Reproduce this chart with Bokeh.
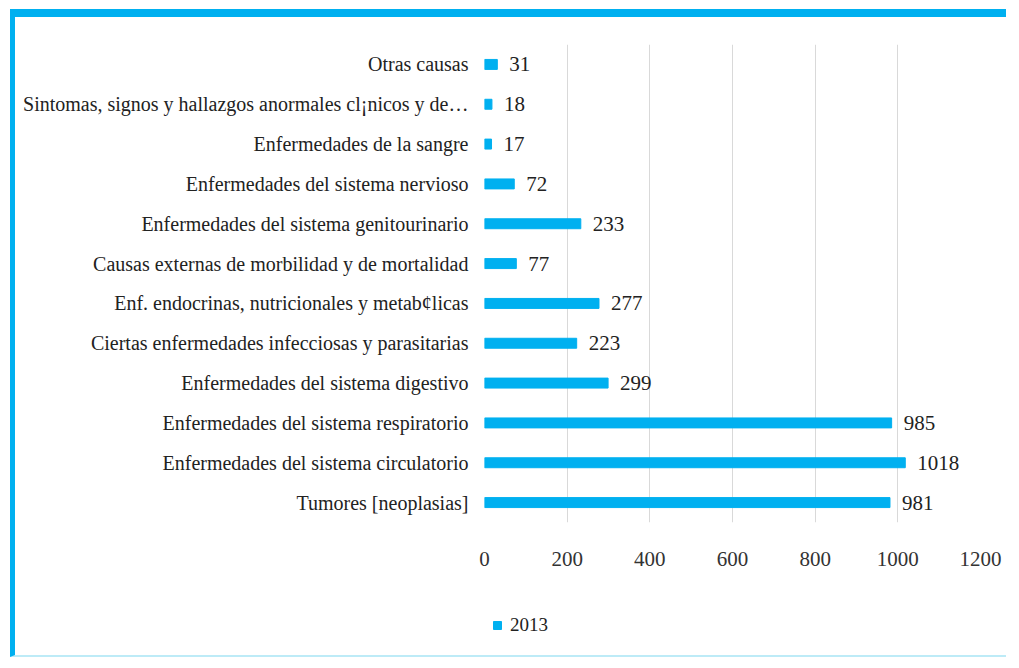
from bokeh.plotting import figure
from bokeh.layouts import column
from bokeh.models import ColumnDataSource, LabelSet, Legend, LegendItem, FixedTicker
from bokeh.embed import file_html
from bokeh.resources import INLINE

categories = [
    "Otras causas",
    "Sintomas, signos y hallazgos anormales cl¡nicos y de…",
    "Enfermedades de la sangre",
    "Enfermedades del sistema nervioso",
    "Enfermedades del sistema genitourinario",
    "Causas externas de morbilidad y de mortalidad",
    "Enf. endocrinas, nutricionales y metab¢licas",
    "Ciertas enfermedades infecciosas y parasitarias",
    "Enfermedades del sistema digestivo",
    "Enfermedades del sistema respiratorio",
    "Enfermedades del sistema circulatorio",
    "Tumores [neoplasias]",
]
values_2013 = [31, 18, 17, 72, 233, 77, 277, 223, 299, 985, 1018, 981]
x_ticks = [0, 200, 400, 600, 800, 1000, 1200]
series_name = "2013"

BLUE = "#00B0F0"
FONT = "Liberation Serif"

src = ColumnDataSource(dict(cat=categories, val=values_2013,
                            lab=[str(v) for v in values_2013]))

p = figure(width=996, height=563, y_range=list(reversed(categories)),
           x_range=(0, 1200), output_backend="svg", toolbar_location=None,
           min_border_left=469, min_border_right=31, min_border_top=27,
           min_border_bottom=58)
p.styles = {"border-top": "8px solid " + BLUE, "border-left": "5px solid " + BLUE,
            "margin-top": "9px", "margin-left": "10px"}

r = p.hbar(y="cat", right="val", left=0, height=0.25, source=src,
           fill_color=BLUE, line_color=BLUE)

labels = LabelSet(x="val", y="cat", text="lab", source=src, x_offset=12,
                  text_baseline="middle", text_font=FONT, text_font_size="21px",
                  text_color="#222222")
p.add_layout(labels)

p.xaxis.ticker = FixedTicker(ticks=x_ticks)
p.xaxis.axis_line_color = None
p.xaxis.major_tick_line_color = None
p.xaxis.minor_tick_line_color = None
p.xaxis.major_label_standoff = 23
p.xaxis.major_label_text_font = FONT
p.xaxis.major_label_text_font_size = "21px"
p.xaxis.major_label_text_color = "#333333"

p.yaxis.axis_line_color = None
p.yaxis.major_tick_line_color = None
p.yaxis.minor_tick_line_color = None
p.yaxis.major_label_standoff = 10
p.yaxis.major_label_text_font = FONT
p.yaxis.major_label_text_font_size = "20px"
p.yaxis.major_label_text_color = "#222222"

p.ygrid.grid_line_color = None
p.xgrid.grid_line_color = "#d9d9d9"
p.xgrid.ticker = FixedTicker(ticks=x_ticks)
p.outline_line_color = None

# legend strip below the chart (its frame is aligned with the chart's frame);
# it keys the same series, whose categories are not part of this strip's range
p2 = figure(width=996, height=85, x_range=(0, 1200), y_range=[series_name],
            output_backend="svg", toolbar_location=None,
            min_border=0, min_border_left=0, min_border_right=0,
            min_border_top=0, min_border_bottom=0)
p2.styles = {"border-left": "5px solid " + BLUE, "margin-left": "10px",
             "border-bottom": "2px solid #bdebf7"}
p2.axis.visible = False
p2.grid.visible = False
p2.outline_line_color = None
r2 = p2.hbar(y="cat", right="val", left=0, height=0.25, source=src,
             fill_color=BLUE, line_color=BLUE)

legend = Legend(items=[LegendItem(label=series_name, renderers=[r2])],
                location=(8, 21), orientation="horizontal",
                label_text_font=FONT, label_text_font_size="19px",
                label_text_color="#222222", glyph_width=10, glyph_height=10,
                label_standoff=8, border_line_color=None,
                background_fill_alpha=0, margin=0, padding=0)
p2.add_layout(legend, "center")

layout = column(p, p2, spacing=0)
open("out.html", "w").write(file_html(layout, INLINE))
